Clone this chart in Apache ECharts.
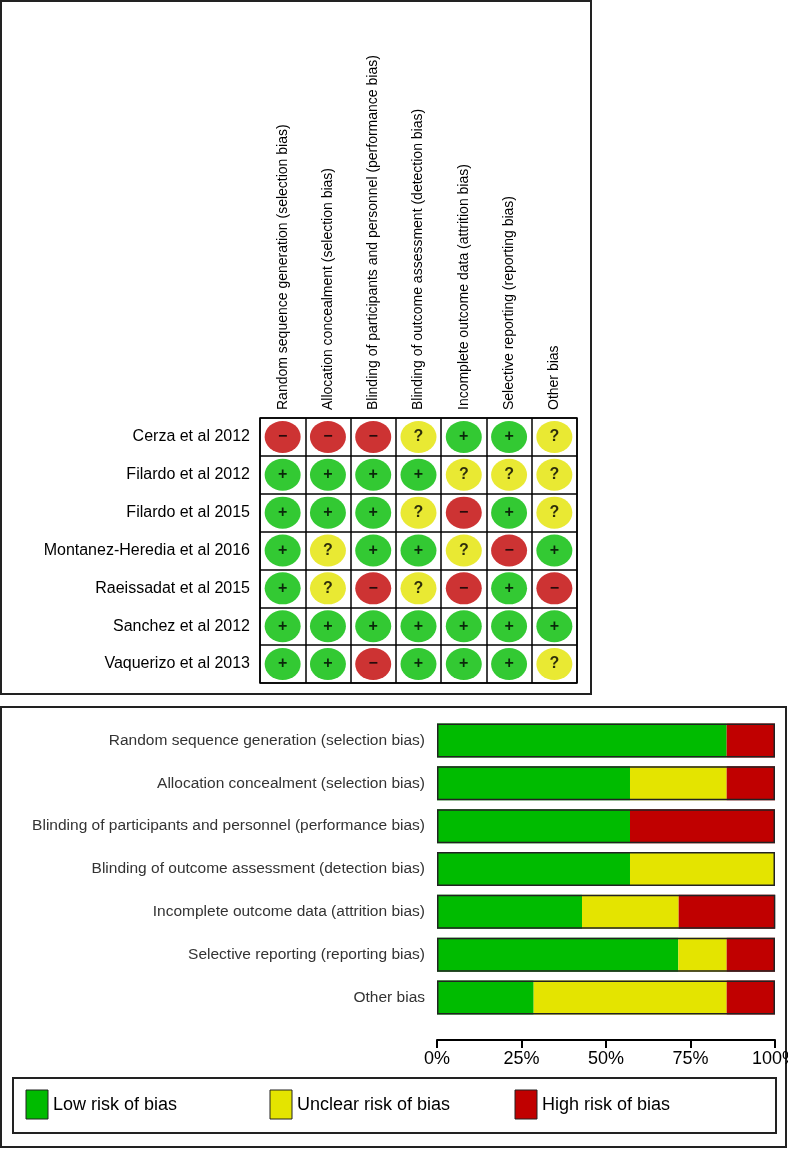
<!DOCTYPE html>
<html><head><meta charset="utf-8">
<script src="https://cdn.jsdelivr.net/npm/echarts@6/dist/echarts.min.js"></script>
<style>html,body{margin:0;padding:0;background:#fff}#c{width:788px;height:1149px}</style>
</head><body><div id="c"></div>
<script>
const domains = ["Random sequence generation (selection bias)","Allocation concealment (selection bias)","Blinding of participants and personnel (performance bias)","Blinding of outcome assessment (detection bias)","Incomplete outcome data (attrition bias)","Selective reporting (reporting bias)","Other bias"];
const studies = ["Cerza et al 2012","Filardo et al 2012","Filardo et al 2015","Montanez-Heredia et al 2016","Raeissadat et al 2015","Sanchez et al 2012","Vaquerizo et al 2013"];
const judgments = [
  ["-","-","-","?","+","+","?"],
  ["+","+","+","+","?","?","?"],
  ["+","+","+","?","-","+","?"],
  ["+","?","+","+","?","-","+"],
  ["+","?","-","?","-","+","-"],
  ["+","+","+","+","+","+","+"],
  ["+","+","-","+","+","+","?"]
];
const lowPct = [85.7,57.1,57.1,57.1,42.9,71.4,28.6];
const unclearPct = [0,28.6,0,42.9,28.6,14.3,57.1];
const highPct = [14.3,14.3,42.9,0,28.6,14.3,14.3];

const GREEN='#00bb00', YEL='#e4e400', RED='#c00000';
const colorOf={"+":GREEN,"?":YEL,"-":RED};
const glyph={"+":"+","?":"?","-":"−"};
const pts=[];
judgments.forEach((row,r)=>row.forEach((j,c)=>pts.push({value:[c,r],itemStyle:{color:colorOf[j]},label:{formatter:glyph[j]}})));

const font="'Liberation Sans', Arial, sans-serif";
const chart=echarts.init(document.getElementById('c'));
chart.setOption({
  animation:false,
  grid:[
    {left:260,top:418,width:317,height:265,show:true,borderColor:'#000',borderWidth:1.5,outerBoundsMode:'none',containLabel:false},
    {left:437,top:719,width:338,height:300,show:false,outerBoundsMode:'none',containLabel:false}
  ],
  xAxis:[
    {gridIndex:0,type:'category',data:domains,position:'top',axisLine:{show:false},axisTick:{show:false},
     splitLine:{show:true,interval:0,lineStyle:{color:'#000',width:1.5}},
     axisLabel:{rotate:-90,interval:0,fontFamily:font,fontSize:14,color:'#000',margin:8}},
    {gridIndex:1,type:'value',min:0,max:100,interval:25,position:'bottom',offset:21,
     axisLine:{show:true,lineStyle:{color:'#000',width:2}},axisTick:{show:true,length:8,lineStyle:{color:'#000',width:2}},
     splitLine:{show:false},axisLabel:{formatter:'{value}%',fontFamily:font,fontSize:18,color:'#000',margin:10}}
  ],
  yAxis:[
    {gridIndex:0,type:'category',data:studies,inverse:true,axisLine:{show:false},axisTick:{show:false},
     splitLine:{show:true,interval:0,lineStyle:{color:'#000',width:1.5}},
     axisLabel:{fontFamily:font,fontSize:16,color:'#000',margin:10}},
    {gridIndex:1,type:'category',data:domains,inverse:true,axisLine:{show:false},axisTick:{show:false},
     axisLabel:{fontFamily:font,fontSize:15.5,color:'#333',margin:12}}
  ],
  series:[
    {type:'scatter',xAxisIndex:0,yAxisIndex:0,symbol:'circle',symbolSize:[36,32],data:pts,
     label:{show:true,position:'inside',color:'#000',fontWeight:'bold',fontSize:16,fontFamily:font}},
    {name:'Low risk of bias',type:'bar',stack:'s',xAxisIndex:1,yAxisIndex:1,barWidth:34,data:lowPct,itemStyle:{color:GREEN}},
    {name:'Unclear risk of bias',type:'bar',stack:'s',xAxisIndex:1,yAxisIndex:1,barWidth:34,data:unclearPct,itemStyle:{color:YEL}},
    {name:'High risk of bias',type:'bar',stack:'s',xAxisIndex:1,yAxisIndex:1,barWidth:34,data:highPct,itemStyle:{color:RED}},
    {type:'bar',xAxisIndex:1,yAxisIndex:1,barWidth:34,barGap:'-100%',z:5,silent:true,
     data:lowPct.map((v,i)=>v+unclearPct[i]+highPct[i]),
     itemStyle:{color:'transparent',borderColor:'#222',borderWidth:1.5}}
  ],
  graphic:[
    {type:'rect',shape:{x:1,y:1,width:590,height:693},style:{fill:'none',stroke:'#222',lineWidth:2}},
    {type:'rect',shape:{x:1,y:707,width:785,height:440},style:{fill:'none',stroke:'#222',lineWidth:2}},
    {type:'rect',shape:{x:13,y:1078,width:763,height:55},style:{fill:'none',stroke:'#222',lineWidth:2}},
    {type:'rect',shape:{x:26,y:1090,width:22,height:29},style:{fill:GREEN,stroke:'#222',lineWidth:1}},
    {type:'text',x:53,y:1105,style:{text:'Low risk of bias',font:'18px '+font,fill:'#000',textVerticalAlign:'middle'}},
    {type:'rect',shape:{x:270,y:1090,width:22,height:29},style:{fill:YEL,stroke:'#222',lineWidth:1}},
    {type:'text',x:297,y:1105,style:{text:'Unclear risk of bias',font:'18px '+font,fill:'#000',textVerticalAlign:'middle'}},
    {type:'rect',shape:{x:515,y:1090,width:22,height:29},style:{fill:RED,stroke:'#222',lineWidth:1}},
    {type:'text',x:542,y:1105,style:{text:'High risk of bias',font:'18px '+font,fill:'#000',textVerticalAlign:'middle'}}
  ]
});
</script></body></html>
